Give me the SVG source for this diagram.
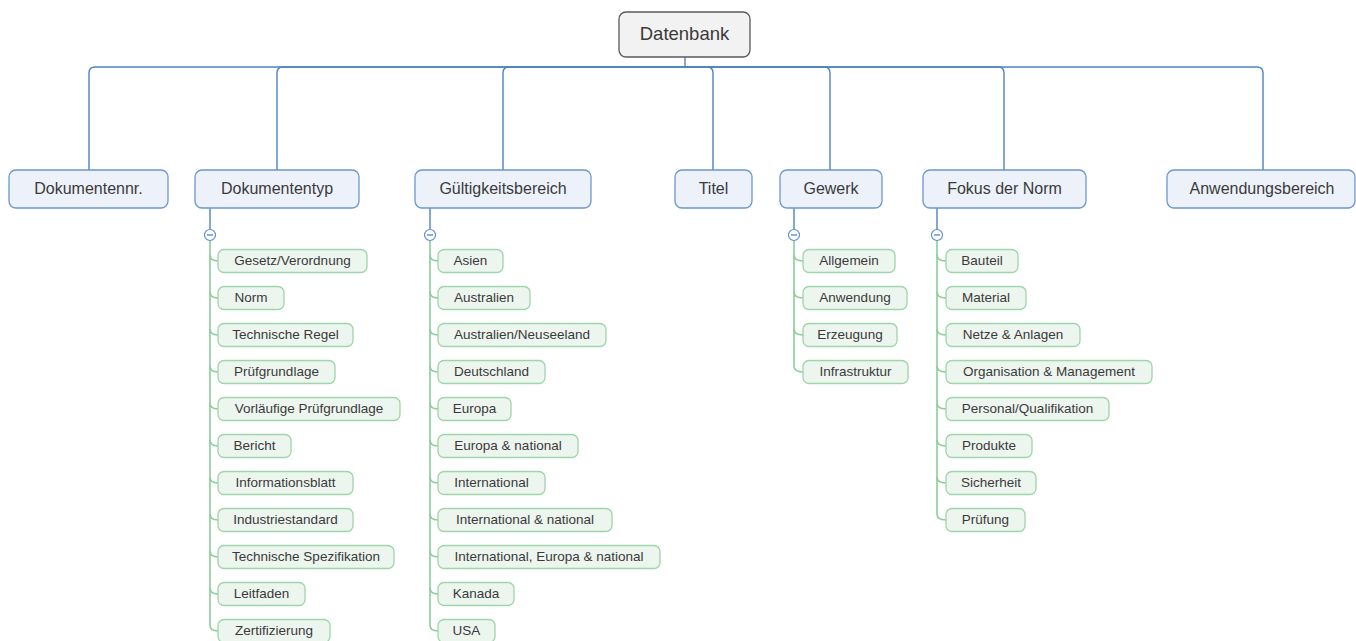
<svg xmlns="http://www.w3.org/2000/svg" width="1356" height="641" viewBox="0 0 1356 641">
<style>
text{font-family:"Liberation Sans",Arial,sans-serif;fill:#3a3a3a;text-anchor:middle;dominant-baseline:central}
.root rect{fill:#f2f2f2;stroke:#5a5a5a;stroke-width:1.3}
.root text{font-size:18.5px}
.l1 rect{fill:#edf2fa;stroke:#6b97cf;stroke-width:1.3}
.l1 text{font-size:16px}
.l2 rect{fill:#edf5ef;stroke:#9ed5aa;stroke-width:1.3}
.l2 text{font-size:13.5px}
.conn path{fill:none;stroke:#4f82c0;stroke-width:1.4}
.conn path.g{stroke:#8ccd9c;stroke-width:1.6}
.col circle{fill:#fff;stroke:#5b8ed0;stroke-width:1.2}
.col line{stroke:#5b8ed0;stroke-width:1.4}
</style>
<rect width="1356" height="641" fill="#fff"/>
<g id="connectors" class="conn">
<path d="M685,57 V67"/>
<path d="M685,67 H95 Q89,67 89,73 V170"/>
<path d="M685,67 H283 Q277,67 277,73 V170"/>
<path d="M685,67 H509 Q503,67 503,73 V170"/>
<path d="M685,67 H707 Q713,67 713,73 V170"/>
<path d="M685,67 H824 Q830,67 830,73 V170"/>
<path d="M685,67 H998 Q1004,67 1004,73 V170"/>
<path d="M685,67 H1257 Q1263,67 1263,73 V170"/>
<path d="M210,208 V229.5"/>
<path d="M430,208 V229.5"/>
<path d="M794,208 V229.5"/>
<path d="M937,208 V229.5"/>
<path class="g" d="M210,241 V625 Q210,631 218,631"/>
<path class="g" d="M210,255 Q210,261 218,261 M210,292 Q210,298 218,298 M210,329 Q210,335 218,335 M210,366 Q210,372 218,372 M210,403 Q210,409 218,409 M210,440 Q210,446 218,446 M210,477 Q210,483 218,483 M210,514 Q210,520 218,520 M210,551 Q210,557 218,557 M210,588 Q210,594 218,594"/>
<path class="g" d="M430,241 V625 Q430,631 438,631"/>
<path class="g" d="M430,255 Q430,261 438,261 M430,292 Q430,298 438,298 M430,329 Q430,335 438,335 M430,366 Q430,372 438,372 M430,403 Q430,409 438,409 M430,440 Q430,446 438,446 M430,477 Q430,483 438,483 M430,514 Q430,520 438,520 M430,551 Q430,557 438,557 M430,588 Q430,594 438,594"/>
<path class="g" d="M794,241 V366 Q794,372 803,372"/>
<path class="g" d="M794,255 Q794,261 803,261 M794,292 Q794,298 803,298 M794,329 Q794,335 803,335"/>
<path class="g" d="M937,241 V514 Q937,520 946,520"/>
<path class="g" d="M937,255 Q937,261 946,261 M937,292 Q937,298 946,298 M937,329 Q937,335 946,335 M937,366 Q937,372 946,372 M937,403 Q937,409 946,409 M937,440 Q937,446 946,446 M937,477 Q937,483 946,483"/>
</g>
<g id="collapse" class="col">
<circle cx="210" cy="235" r="5.5"/><line x1="207" y1="235" x2="213" y2="235"/>
<circle cx="430" cy="235" r="5.5"/><line x1="427" y1="235" x2="433" y2="235"/>
<circle cx="794" cy="235" r="5.5"/><line x1="791" y1="235" x2="797" y2="235"/>
<circle cx="937" cy="235" r="5.5"/><line x1="934" y1="235" x2="940" y2="235"/>
</g>
<g id="n-datenbank" class="root"><rect x="619" y="12" width="131" height="45" rx="7"/><text x="684.5" y="33.5">Datenbank</text></g>
<g id="n-dokumentennr" class="l1"><rect x="9" y="170" width="159" height="38" rx="7"/><text x="88.5" y="188.5">Dokumentennr.</text></g>
<g id="n-dokumententyp" class="l1"><rect x="195" y="170" width="164" height="38" rx="7"/><text x="277" y="188.5">Dokumententyp</text></g>
<g id="n-gueltigkeitsbereich" class="l1"><rect x="415" y="170" width="176" height="38" rx="7"/><text x="503" y="188.5">Gültigkeitsbereich</text></g>
<g id="n-titel" class="l1"><rect x="675" y="170" width="77" height="38" rx="7"/><text x="713.5" y="188.5">Titel</text></g>
<g id="n-gewerk" class="l1"><rect x="780" y="170" width="102" height="38" rx="7"/><text x="831" y="188.5">Gewerk</text></g>
<g id="n-fokus" class="l1"><rect x="923" y="170" width="163" height="38" rx="7"/><text x="1004.5" y="188.5">Fokus der Norm</text></g>
<g id="n-anwendungsbereich" class="l1"><rect x="1167" y="170" width="188" height="38" rx="7"/><text x="1262" y="188.5">Anwendungsbereich</text></g>

<g id="c-gesetz" class="l2"><rect x="218" y="249.5" width="149" height="23" rx="6"/><text x="292.5" y="260.5">Gesetz/Verordnung</text></g>
<g id="c-norm" class="l2"><rect x="218" y="286.5" width="66" height="23" rx="6"/><text x="251" y="297.5">Norm</text></g>
<g id="c-techregel" class="l2"><rect x="218" y="323.5" width="135" height="23" rx="6"/><text x="285.5" y="334.5">Technische Regel</text></g>
<g id="c-pruefgrundlage" class="l2"><rect x="218" y="360.5" width="117" height="23" rx="6"/><text x="276.5" y="371.5">Prüfgrundlage</text></g>
<g id="c-vorlaeufig" class="l2"><rect x="218" y="397.5" width="182" height="23" rx="6"/><text x="309" y="408.5">Vorläufige Prüfgrundlage</text></g>
<g id="c-bericht" class="l2"><rect x="218" y="434.5" width="73" height="23" rx="6"/><text x="254.5" y="445.5">Bericht</text></g>
<g id="c-infoblatt" class="l2"><rect x="218" y="471.5" width="135" height="23" rx="6"/><text x="285.5" y="482.5">Informationsblatt</text></g>
<g id="c-industrie" class="l2"><rect x="218" y="508.5" width="135" height="23" rx="6"/><text x="285.5" y="519.5">Industriestandard</text></g>
<g id="c-techspez" class="l2"><rect x="218" y="545.5" width="176" height="23" rx="6"/><text x="306" y="556.5">Technische Spezifikation</text></g>
<g id="c-leitfaden" class="l2"><rect x="218" y="582.5" width="87" height="23" rx="6"/><text x="261.5" y="593.5">Leitfaden</text></g>
<g id="c-zertifizierung" class="l2"><rect x="218" y="619.5" width="112" height="23" rx="6"/><text x="274" y="630.5">Zertifizierung</text></g>

<g id="c-asien" class="l2"><rect x="438" y="249.5" width="65" height="23" rx="6"/><text x="470.5" y="260.5">Asien</text></g>
<g id="c-australien" class="l2"><rect x="438" y="286.5" width="92" height="23" rx="6"/><text x="484" y="297.5">Australien</text></g>
<g id="c-ausnz" class="l2"><rect x="438" y="323.5" width="168" height="23" rx="6"/><text x="522" y="334.5">Australien/Neuseeland</text></g>
<g id="c-deutschland" class="l2"><rect x="438" y="360.5" width="107" height="23" rx="6"/><text x="491.5" y="371.5">Deutschland</text></g>
<g id="c-europa" class="l2"><rect x="438" y="397.5" width="73" height="23" rx="6"/><text x="474.5" y="408.5">Europa</text></g>
<g id="c-europanat" class="l2"><rect x="438" y="434.5" width="140" height="23" rx="6"/><text x="508" y="445.5">Europa &amp; national</text></g>
<g id="c-international" class="l2"><rect x="438" y="471.5" width="107" height="23" rx="6"/><text x="491.5" y="482.5">International</text></g>
<g id="c-intnat" class="l2"><rect x="438" y="508.5" width="174" height="23" rx="6"/><text x="525" y="519.5">International &amp; national</text></g>
<g id="c-inteurnat" class="l2"><rect x="438" y="545.5" width="222" height="23" rx="6"/><text x="549" y="556.5">International, Europa &amp; national</text></g>
<g id="c-kanada" class="l2"><rect x="438" y="582.5" width="76" height="23" rx="6"/><text x="476" y="593.5">Kanada</text></g>
<g id="c-usa" class="l2"><rect x="438" y="619.5" width="57" height="23" rx="6"/><text x="466.5" y="630.5">USA</text></g>

<g id="c-allgemein" class="l2"><rect x="803" y="249.5" width="92" height="23" rx="6"/><text x="849" y="260.5">Allgemein</text></g>
<g id="c-anwendung" class="l2"><rect x="803" y="286.5" width="104" height="23" rx="6"/><text x="855" y="297.5">Anwendung</text></g>
<g id="c-erzeugung" class="l2"><rect x="803" y="323.5" width="94" height="23" rx="6"/><text x="850" y="334.5">Erzeugung</text></g>
<g id="c-infrastruktur" class="l2"><rect x="803" y="360.5" width="105" height="23" rx="6"/><text x="855.5" y="371.5">Infrastruktur</text></g>

<g id="c-bauteil" class="l2"><rect x="946" y="249.5" width="72" height="23" rx="6"/><text x="982" y="260.5">Bauteil</text></g>
<g id="c-material" class="l2"><rect x="946" y="286.5" width="80" height="23" rx="6"/><text x="986" y="297.5">Material</text></g>
<g id="c-netze" class="l2"><rect x="946" y="323.5" width="134" height="23" rx="6"/><text x="1013" y="334.5">Netze &amp; Anlagen</text></g>
<g id="c-organisation" class="l2"><rect x="946" y="360.5" width="206" height="23" rx="6"/><text x="1049" y="371.5">Organisation &amp; Management</text></g>
<g id="c-personal" class="l2"><rect x="946" y="397.5" width="163" height="23" rx="6"/><text x="1027.5" y="408.5">Personal/Qualifikation</text></g>
<g id="c-produkte" class="l2"><rect x="946" y="434.5" width="86" height="23" rx="6"/><text x="989" y="445.5">Produkte</text></g>
<g id="c-sicherheit" class="l2"><rect x="946" y="471.5" width="90" height="23" rx="6"/><text x="991" y="482.5">Sicherheit</text></g>
<g id="c-pruefung" class="l2"><rect x="946" y="508.5" width="79" height="23" rx="6"/><text x="985.5" y="519.5">Prüfung</text></g>
</svg>
